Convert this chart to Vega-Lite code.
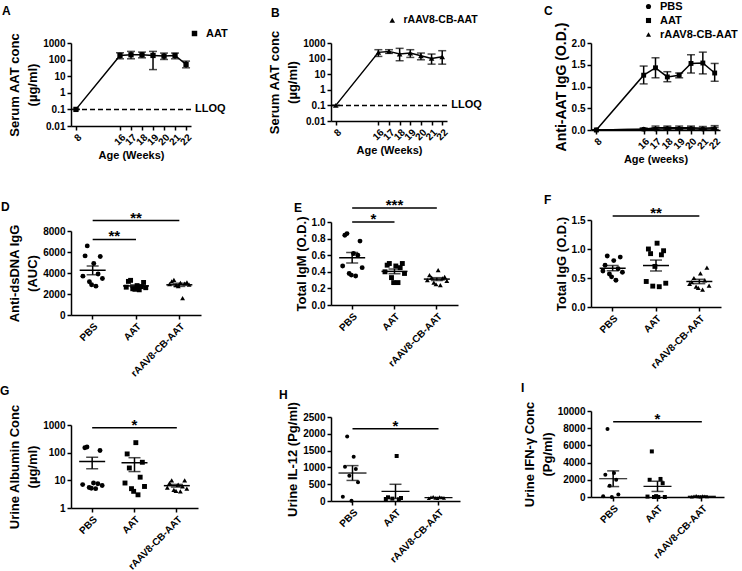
{
"$schema": "https://vega.github.io/schema/vega-lite/v6.json",
"background": "white",
"padding": {"left": 0, "top": 1, "right": 0, "bottom": 0},
"config": {
 "font": "Liberation Sans",
 "view": {"stroke": null},
 "axis": {"grid": false, "domainColor": "black", "domainWidth": 1.5, "tickColor": "black", "tickWidth": 1.5, "tickSize": 4, "labelColor": "black", "labelFontSize": 10, "labelFontWeight": "bold", "labelOverlap": false, "titleColor": "black", "titleFontSize": 13, "titleFontWeight": "bold", "labelPadding": 2, "titlePadding": 3, "titleLineHeight": 18},
 "title": {"fontSize": 12, "fontWeight": "bold", "anchor": "start", "color": "black", "frame": "group"},
 "legend": {"labelFontSize": 11, "labelFontWeight": "bold", "labelColor": "black", "rowPadding": 1, "labelOffset": 6}
},
"spacing": 260,
"bounds": "flush",
"resolve": {"scale": {"shape": "independent"}, "legend": {"shape": "independent"}},
"hconcat": [
 {"spacing": 105, "bounds": "flush", "resolve": {"scale": {"shape": "independent"}, "legend": {"shape": "independent"}},
  "vconcat": [
  {"width": 120, "height": 83,
   "title": {"text": "A", "dx": -69, "offset": 10.5},
   "data": {"values": [
    {"week": 8, "mean": 0.1, "lo": 0.1, "hi": 0.1, "grp": "AAT"},
    {"week": 16, "mean": 178, "lo": 112, "hi": 258, "grp": "AAT"},
    {"week": 17, "mean": 195, "lo": 112, "hi": 312, "grp": "AAT"},
    {"week": 18, "mean": 195, "lo": 128, "hi": 284, "grp": "AAT"},
    {"week": 19, "mean": 178, "lo": 25, "hi": 312, "grp": "AAT"},
    {"week": 20, "mean": 162, "lo": 102, "hi": 247, "grp": "AAT"},
    {"week": 21, "mean": 178, "lo": 112, "hi": 247, "grp": "AAT"},
    {"week": 22, "mean": 51, "lo": 32, "hi": 81, "grp": "AAT"}
   ]},
   "layer": [
    {"data": {"values": [{"lloq": 0.1}]},
     "mark": {"type": "rule", "strokeDash": [5, 3], "strokeWidth": 1.5, "color": "black"},
     "encoding": {"y": {"field": "lloq", "type": "quantitative", "scale": {"type": "log", "domain": [0.01, 1000]}, "axis": {"values": [0.01, 0.1, 1, 10, 100, 1000], "format": "~g", "title": ["Serum AAT conc", "(µg/ml)"]}}}},
    {"data": {"values": [{"lloq": 0.1, "wk": 22, "t": "LLOQ"}]},
     "mark": {"type": "text", "align": "left", "dx": 9, "fontSize": 11, "fontWeight": "bold", "baseline": "middle"},
     "encoding": {
      "x": {"field": "wk", "type": "ordinal", "scale": {"type": "point", "domain": [8, 13, 14, 15, 16, 17, 18, 19, 20, 21, 22], "padding": 0.45}, "axis": {"values": [8, 16, 17, 18, 19, 20, 21, 22], "title": "Age (Weeks)", "titleFontSize": 11, "labelAngle": -45}},
      "y": {"field": "lloq", "type": "quantitative", "scale": {"type": "log", "domain": [0.01, 1000]}, "axis": {"values": [0.01, 0.1, 1, 10, 100, 1000], "format": "~g", "title": ["Serum AAT conc", "(µg/ml)"]}},
      "text": {"field": "t"}}},
    {"mark": {"type": "rule", "strokeWidth": 1.5, "color": "black"},
     "encoding": {
      "x": {"field": "week", "type": "ordinal", "scale": {"type": "point", "domain": [8, 13, 14, 15, 16, 17, 18, 19, 20, 21, 22], "padding": 0.45}, "axis": {"values": [8, 16, 17, 18, 19, 20, 21, 22], "title": "Age (Weeks)", "titleFontSize": 11, "labelAngle": -45}},
      "y": {"field": "lo", "type": "quantitative", "scale": {"type": "log", "domain": [0.01, 1000]}, "axis": {"values": [0.01, 0.1, 1, 10, 100, 1000], "format": "~g", "title": ["Serum AAT conc", "(µg/ml)"]}},
      "y2": {"field": "hi"}}},
    {"mark": {"type": "tick", "size": 8, "thickness": 1.5, "color": "black"},
     "encoding": {
      "x": {"field": "week", "type": "ordinal", "scale": {"type": "point", "domain": [8, 13, 14, 15, 16, 17, 18, 19, 20, 21, 22], "padding": 0.45}, "axis": {"values": [8, 16, 17, 18, 19, 20, 21, 22], "title": "Age (Weeks)", "titleFontSize": 11, "labelAngle": -45}},
      "y": {"field": "lo", "type": "quantitative", "scale": {"type": "log", "domain": [0.01, 1000]}, "axis": {"values": [0.01, 0.1, 1, 10, 100, 1000], "format": "~g", "title": ["Serum AAT conc", "(µg/ml)"]}}}},
    {"mark": {"type": "tick", "size": 8, "thickness": 1.5, "color": "black"},
     "encoding": {
      "x": {"field": "week", "type": "ordinal", "scale": {"type": "point", "domain": [8, 13, 14, 15, 16, 17, 18, 19, 20, 21, 22], "padding": 0.45}, "axis": {"values": [8, 16, 17, 18, 19, 20, 21, 22], "title": "Age (Weeks)", "titleFontSize": 11, "labelAngle": -45}},
      "y": {"field": "hi", "type": "quantitative", "scale": {"type": "log", "domain": [0.01, 1000]}, "axis": {"values": [0.01, 0.1, 1, 10, 100, 1000], "format": "~g", "title": ["Serum AAT conc", "(µg/ml)"]}}}},
    {"mark": {"type": "line", "color": "black", "strokeWidth": 1.5},
     "encoding": {
      "x": {"field": "week", "type": "ordinal", "scale": {"type": "point", "domain": [8, 13, 14, 15, 16, 17, 18, 19, 20, 21, 22], "padding": 0.45}, "axis": {"values": [8, 16, 17, 18, 19, 20, 21, 22], "title": "Age (Weeks)", "titleFontSize": 11, "labelAngle": -45}},
      "y": {"field": "mean", "type": "quantitative", "scale": {"type": "log", "domain": [0.01, 1000]}, "axis": {"values": [0.01, 0.1, 1, 10, 100, 1000], "format": "~g", "title": ["Serum AAT conc", "(µg/ml)"]}}}},
    {"mark": {"type": "point", "filled": true, "color": "black", "size": 28, "opacity": 1},
     "encoding": {
      "x": {"field": "week", "type": "ordinal", "scale": {"type": "point", "domain": [8, 13, 14, 15, 16, 17, 18, 19, 20, 21, 22], "padding": 0.45}, "axis": {"values": [8, 16, 17, 18, 19, 20, 21, 22], "title": "Age (Weeks)", "titleFontSize": 11, "labelAngle": -45}},
      "y": {"field": "mean", "type": "quantitative", "scale": {"type": "log", "domain": [0.01, 1000]}, "axis": {"values": [0.01, 0.1, 1, 10, 100, 1000], "format": "~g", "title": ["Serum AAT conc", "(µg/ml)"]}},
      "shape": {"field": "grp", "type": "nominal", "scale": {"domain": ["AAT"], "range": ["square"]}, "legend": {"title": null, "orient": "none", "legendX": 118, "legendY": -15, "symbolSize": 30}}}}
   ]},
  {"spacing": 110, "bounds": "flush", "resolve": {"scale": {"shape": "independent"}, "legend": {"shape": "independent"}},
   "vconcat": [
   {"width": 130, "height": 84,
    "title": {"text": "D", "dx": -70, "offset": -3},
    "data": {"values": [
     {"g": "PBS", "id": 3, "v": 6580}, {"g": "PBS", "id": 2, "v": 5630}, {"g": "PBS", "id": 9, "v": 5570}, {"g": "PBS", "id": 6, "v": 4900}, {"g": "PBS", "id": 8, "v": 3900},
     {"g": "PBS", "id": 1, "v": 3700}, {"g": "PBS", "id": 10, "v": 3480}, {"g": "PBS", "id": 4, "v": 3160}, {"g": "PBS", "id": 5, "v": 2880}, {"g": "PBS", "id": 7, "v": 2750},
     {"g": "AAT", "id": 3, "v": 3300}, {"g": "AAT", "id": 2, "v": 3200}, {"g": "AAT", "id": 9, "v": 3100}, {"g": "AAT", "id": 6, "v": 2800}, {"g": "AAT", "id": 8, "v": 2700},
     {"g": "AAT", "id": 1, "v": 2650}, {"g": "AAT", "id": 10, "v": 2600}, {"g": "AAT", "id": 4, "v": 2500}, {"g": "AAT", "id": 5, "v": 2450}, {"g": "AAT", "id": 7, "v": 2400},
     {"g": "rAAV8-CB-AAT", "id": 3, "v": 3350}, {"g": "rAAV8-CB-AAT", "id": 2, "v": 3200}, {"g": "rAAV8-CB-AAT", "id": 9, "v": 3100}, {"g": "rAAV8-CB-AAT", "id": 6, "v": 3050}, {"g": "rAAV8-CB-AAT", "id": 8, "v": 3000},
     {"g": "rAAV8-CB-AAT", "id": 1, "v": 2950}, {"g": "rAAV8-CB-AAT", "id": 10, "v": 2900}, {"g": "rAAV8-CB-AAT", "id": 4, "v": 2850}, {"g": "rAAV8-CB-AAT", "id": 5, "v": 2750}, {"g": "rAAV8-CB-AAT", "id": 7, "v": 1600}
    ]},
    "layer": [
     {"mark": {"type": "point", "filled": true, "color": "black", "size": 24, "opacity": 1},
      "encoding": {
       "x": {"field": "g", "type": "nominal", "scale": {"type": "band", "domain": ["PBS", "AAT", "rAAV8-CB-AAT"], "paddingInner": 0.5, "paddingOuter": 0.25}, "axis": {"title": null, "labelAngle": -45}},
       "xOffset": {"field": "id", "type": "nominal"},
       "y": {"field": "v", "type": "quantitative", "scale": {"domain": [0, 8000]}, "axis": {"values": [0, 2000, 4000, 6000, 8000], "format": "d", "title": ["Anti-dsDNA IgG", "(AUC)"]}},
       "shape": {"field": "g", "type": "nominal", "scale": {"domain": ["PBS", "AAT", "rAAV8-CB-AAT"], "range": ["circle", "square", "triangle-up"]}, "legend": null}}},
     {"mark": {"type": "tick", "size": 26, "thickness": 1.5, "color": "black"},
      "encoding": {
       "x": {"field": "g", "type": "nominal", "scale": {"type": "band", "domain": ["PBS", "AAT", "rAAV8-CB-AAT"], "paddingInner": 0.5, "paddingOuter": 0.25}, "axis": {"title": null, "labelAngle": -45}},
       "y": {"aggregate": "mean", "field": "v", "type": "quantitative", "scale": {"domain": [0, 8000]}, "axis": {"values": [0, 2000, 4000, 6000, 8000], "format": "d", "title": ["Anti-dsDNA IgG", "(AUC)"]}}}},
     {"mark": {"type": "errorbar", "extent": "stderr", "color": "black", "thickness": 1.5, "ticks": {"size": 12, "thickness": 1.5}},
      "encoding": {
       "x": {"field": "g", "type": "nominal", "scale": {"type": "band", "domain": ["PBS", "AAT", "rAAV8-CB-AAT"], "paddingInner": 0.5, "paddingOuter": 0.25}, "axis": {"title": null, "labelAngle": -45}},
       "y": {"field": "v", "type": "quantitative", "scale": {"domain": [0, 8000]}, "axis": {"values": [0, 2000, 4000, 6000, 8000], "format": "d", "title": ["Anti-dsDNA IgG", "(AUC)"]}}}},
     {"data": {"values": [{"a": "PBS", "b": "AAT", "y": 7200}, {"a": "PBS", "b": "rAAV8-CB-AAT", "y": 9000}]},
      "mark": {"type": "rule", "strokeWidth": 1.5, "color": "black"},
      "encoding": {
       "x": {"field": "a", "type": "nominal", "scale": {"type": "band", "domain": ["PBS", "AAT", "rAAV8-CB-AAT"], "paddingInner": 0.5, "paddingOuter": 0.25}, "axis": {"title": null, "labelAngle": -45}},
       "x2": {"field": "b"},
       "y": {"field": "y", "type": "quantitative", "scale": {"domain": [0, 8000]}, "axis": {"values": [0, 2000, 4000, 6000, 8000], "format": "d", "title": ["Anti-dsDNA IgG", "(AUC)"]}}}},
     {"data": {"values": [{"c": "PBS", "y": 7200, "s": "**"}]},
      "mark": {"type": "text", "fontSize": 15, "fontWeight": "bold", "baseline": "alphabetic", "dy": 2},
      "encoding": {
       "x": {"field": "c", "type": "nominal", "bandPosition": 1.5, "scale": {"type": "band", "domain": ["PBS", "AAT", "rAAV8-CB-AAT"], "paddingInner": 0.5, "paddingOuter": 0.25}, "axis": {"title": null, "labelAngle": -45}},
       "y": {"field": "y", "type": "quantitative", "scale": {"domain": [0, 8000]}, "axis": {"values": [0, 2000, 4000, 6000, 8000], "format": "d", "title": ["Anti-dsDNA IgG", "(AUC)"]}},
       "text": {"field": "s"}}},
     {"data": {"values": [{"c": "AAT", "y": 9000, "s": "**"}]},
      "mark": {"type": "text", "fontSize": 15, "fontWeight": "bold", "baseline": "alphabetic", "dy": 2},
      "encoding": {
       "x": {"field": "c", "type": "nominal", "scale": {"type": "band", "domain": ["PBS", "AAT", "rAAV8-CB-AAT"], "paddingInner": 0.5, "paddingOuter": 0.25}, "axis": {"title": null, "labelAngle": -45}},
       "y": {"field": "y", "type": "quantitative", "scale": {"domain": [0, 8000]}, "axis": {"values": [0, 2000, 4000, 6000, 8000], "format": "d", "title": ["Anti-dsDNA IgG", "(AUC)"]}},
       "text": {"field": "s"}}}
    ]},
   {"width": 127, "height": 83,
    "title": {"text": "G", "dx": -71, "offset": 6.5},
    "data": {"values": [
     {"g": "PBS", "id": 3, "v": 160}, {"g": "PBS", "id": 2, "v": 150}, {"g": "PBS", "id": 9, "v": 120}, {"g": "PBS", "id": 6, "v": 8}, {"g": "PBS", "id": 8, "v": 7.5},
     {"g": "PBS", "id": 1, "v": 7}, {"g": "PBS", "id": 10, "v": 6.5}, {"g": "PBS", "id": 4, "v": 5.5}, {"g": "PBS", "id": 5, "v": 5.2}, {"g": "PBS", "id": 7, "v": 5},
     {"g": "AAT", "id": 6, "v": 230}, {"g": "AAT", "id": 2, "v": 90}, {"g": "AAT", "id": 9, "v": 45}, {"g": "AAT", "id": 3, "v": 28}, {"g": "AAT", "id": 8, "v": 13},
     {"g": "AAT", "id": 1, "v": 8}, {"g": "AAT", "id": 10, "v": 6}, {"g": "AAT", "id": 4, "v": 5}, {"g": "AAT", "id": 5, "v": 4}, {"g": "AAT", "id": 7, "v": 3},
     {"g": "rAAV8-CB-AAT", "id": 3, "v": 10}, {"g": "rAAV8-CB-AAT", "id": 9, "v": 10}, {"g": "rAAV8-CB-AAT", "id": 2, "v": 8}, {"g": "rAAV8-CB-AAT", "id": 6, "v": 7}, {"g": "rAAV8-CB-AAT", "id": 8, "v": 6},
     {"g": "rAAV8-CB-AAT", "id": 1, "v": 5.5}, {"g": "rAAV8-CB-AAT", "id": 10, "v": 5}, {"g": "rAAV8-CB-AAT", "id": 4, "v": 4.5}, {"g": "rAAV8-CB-AAT", "id": 5, "v": 4.2}, {"g": "rAAV8-CB-AAT", "id": 7, "v": 4}
    ]},
    "layer": [
     {"mark": {"type": "point", "filled": true, "color": "black", "size": 24, "opacity": 1},
      "encoding": {
       "x": {"field": "g", "type": "nominal", "scale": {"type": "band", "domain": ["PBS", "AAT", "rAAV8-CB-AAT"], "paddingInner": 0.5, "paddingOuter": 0.25}, "axis": {"title": null, "labelAngle": -45}},
       "xOffset": {"field": "id", "type": "nominal"},
       "y": {"field": "v", "type": "quantitative", "scale": {"type": "log", "domain": [1, 1000]}, "axis": {"values": [1, 10, 100, 1000], "format": "~g", "title": ["Urine Albumin Conc", "(µg/ml)"]}},
       "shape": {"field": "g", "type": "nominal", "scale": {"domain": ["PBS", "AAT", "rAAV8-CB-AAT"], "range": ["circle", "square", "triangle-up"]}, "legend": null}}},
     {"mark": {"type": "tick", "size": 26, "thickness": 1.5, "color": "black"},
      "encoding": {
       "x": {"field": "g", "type": "nominal", "scale": {"type": "band", "domain": ["PBS", "AAT", "rAAV8-CB-AAT"], "paddingInner": 0.5, "paddingOuter": 0.25}, "axis": {"title": null, "labelAngle": -45}},
       "y": {"aggregate": "mean", "field": "v", "type": "quantitative", "scale": {"type": "log", "domain": [1, 1000]}, "axis": {"values": [1, 10, 100, 1000], "format": "~g", "title": ["Urine Albumin Conc", "(µg/ml)"]}}}},
     {"mark": {"type": "errorbar", "extent": "stderr", "color": "black", "thickness": 1.5, "ticks": {"size": 12, "thickness": 1.5}},
      "encoding": {
       "x": {"field": "g", "type": "nominal", "scale": {"type": "band", "domain": ["PBS", "AAT", "rAAV8-CB-AAT"], "paddingInner": 0.5, "paddingOuter": 0.25}, "axis": {"title": null, "labelAngle": -45}},
       "y": {"field": "v", "type": "quantitative", "scale": {"type": "log", "domain": [1, 1000]}, "axis": {"values": [1, 10, 100, 1000], "format": "~g", "title": ["Urine Albumin Conc", "(µg/ml)"]}}}},
     {"data": {"values": [{"a": "PBS", "b": "rAAV8-CB-AAT", "y": 800}]},
      "mark": {"type": "rule", "strokeWidth": 1.5, "color": "black"},
      "encoding": {
       "x": {"field": "a", "type": "nominal", "scale": {"type": "band", "domain": ["PBS", "AAT", "rAAV8-CB-AAT"], "paddingInner": 0.5, "paddingOuter": 0.25}, "axis": {"title": null, "labelAngle": -45}},
       "x2": {"field": "b"},
       "y": {"field": "y", "type": "quantitative", "scale": {"type": "log", "domain": [1, 1000]}, "axis": {"values": [1, 10, 100, 1000], "format": "~g", "title": ["Urine Albumin Conc", "(µg/ml)"]}}}},
     {"data": {"values": [{"c": "AAT", "y": 800, "s": "*"}]},
      "mark": {"type": "text", "fontSize": 15, "fontWeight": "bold", "baseline": "alphabetic", "dy": 2},
      "encoding": {
       "x": {"field": "c", "type": "nominal", "scale": {"type": "band", "domain": ["PBS", "AAT", "rAAV8-CB-AAT"], "paddingInner": 0.5, "paddingOuter": 0.25}, "axis": {"title": null, "labelAngle": -45}},
       "y": {"field": "y", "type": "quantitative", "scale": {"type": "log", "domain": [1, 1000]}, "axis": {"values": [1, 10, 100, 1000], "format": "~g", "title": ["Urine Albumin Conc", "(µg/ml)"]}},
       "text": {"field": "s"}}}
    ]}
  ]}
 ]},
 {"spacing": 101, "bounds": "flush", "resolve": {"scale": {"shape": "independent"}, "legend": {"shape": "independent"}},
  "vconcat": [
  {"width": 116, "height": 78,
   "title": {"text": "B", "dx": -60, "offset": -4.5},
   "data": {"values": [
    {"week": 8, "mean": 0.1, "lo": 0.1, "hi": 0.1, "grp": "rAAV8-CB-AAT"},
    {"week": 16, "mean": 251, "lo": 138, "hi": 372, "grp": "rAAV8-CB-AAT"},
    {"week": 17, "mean": 290, "lo": 216, "hi": 372, "grp": "rAAV8-CB-AAT"},
    {"week": 18, "mean": 196, "lo": 73, "hi": 454, "grp": "rAAV8-CB-AAT"},
    {"week": 19, "mean": 227, "lo": 119, "hi": 372, "grp": "rAAV8-CB-AAT"},
    {"week": 20, "mean": 153, "lo": 84, "hi": 227, "grp": "rAAV8-CB-AAT"},
    {"week": 21, "mean": 103, "lo": 44, "hi": 196, "grp": "rAAV8-CB-AAT"},
    {"week": 22, "mean": 132, "lo": 44, "hi": 321, "grp": "rAAV8-CB-AAT"}
   ]},
   "layer": [
    {"data": {"values": [{"lloq": 0.1}]},
     "mark": {"type": "rule", "strokeDash": [5, 3], "strokeWidth": 1.5, "color": "black"},
     "encoding": {"y": {"field": "lloq", "type": "quantitative", "scale": {"type": "log", "domain": [0.01, 1000]}, "axis": {"values": [0.01, 0.1, 1, 10, 100, 1000], "format": "~g", "title": ["Serum AAT conc", "(µg/ml)"]}}}},
    {"data": {"values": [{"lloq": 0.1, "wk": 22, "t": "LLOQ"}]},
     "mark": {"type": "text", "align": "left", "dx": 9, "fontSize": 11, "fontWeight": "bold", "baseline": "middle"},
     "encoding": {
      "x": {"field": "wk", "type": "ordinal", "scale": {"type": "point", "domain": [8, 13, 14, 15, 16, 17, 18, 19, 20, 21, 22], "padding": 0.45}, "axis": {"values": [8, 16, 17, 18, 19, 20, 21, 22], "title": "Age (Weeks)", "titleFontSize": 11, "labelAngle": -45}},
      "y": {"field": "lloq", "type": "quantitative", "scale": {"type": "log", "domain": [0.01, 1000]}, "axis": {"values": [0.01, 0.1, 1, 10, 100, 1000], "format": "~g", "title": ["Serum AAT conc", "(µg/ml)"]}},
      "text": {"field": "t"}}},
    {"mark": {"type": "rule", "strokeWidth": 1.5, "color": "black"},
     "encoding": {
      "x": {"field": "week", "type": "ordinal", "scale": {"type": "point", "domain": [8, 13, 14, 15, 16, 17, 18, 19, 20, 21, 22], "padding": 0.45}, "axis": {"values": [8, 16, 17, 18, 19, 20, 21, 22], "title": "Age (Weeks)", "titleFontSize": 11, "labelAngle": -45}},
      "y": {"field": "lo", "type": "quantitative", "scale": {"type": "log", "domain": [0.01, 1000]}, "axis": {"values": [0.01, 0.1, 1, 10, 100, 1000], "format": "~g", "title": ["Serum AAT conc", "(µg/ml)"]}},
      "y2": {"field": "hi"}}},
    {"mark": {"type": "tick", "size": 8, "thickness": 1.5, "color": "black"},
     "encoding": {
      "x": {"field": "week", "type": "ordinal", "scale": {"type": "point", "domain": [8, 13, 14, 15, 16, 17, 18, 19, 20, 21, 22], "padding": 0.45}, "axis": {"values": [8, 16, 17, 18, 19, 20, 21, 22], "title": "Age (Weeks)", "titleFontSize": 11, "labelAngle": -45}},
      "y": {"field": "lo", "type": "quantitative", "scale": {"type": "log", "domain": [0.01, 1000]}, "axis": {"values": [0.01, 0.1, 1, 10, 100, 1000], "format": "~g", "title": ["Serum AAT conc", "(µg/ml)"]}}}},
    {"mark": {"type": "tick", "size": 8, "thickness": 1.5, "color": "black"},
     "encoding": {
      "x": {"field": "week", "type": "ordinal", "scale": {"type": "point", "domain": [8, 13, 14, 15, 16, 17, 18, 19, 20, 21, 22], "padding": 0.45}, "axis": {"values": [8, 16, 17, 18, 19, 20, 21, 22], "title": "Age (Weeks)", "titleFontSize": 11, "labelAngle": -45}},
      "y": {"field": "hi", "type": "quantitative", "scale": {"type": "log", "domain": [0.01, 1000]}, "axis": {"values": [0.01, 0.1, 1, 10, 100, 1000], "format": "~g", "title": ["Serum AAT conc", "(µg/ml)"]}}}},
    {"mark": {"type": "line", "color": "black", "strokeWidth": 1.5},
     "encoding": {
      "x": {"field": "week", "type": "ordinal", "scale": {"type": "point", "domain": [8, 13, 14, 15, 16, 17, 18, 19, 20, 21, 22], "padding": 0.45}, "axis": {"values": [8, 16, 17, 18, 19, 20, 21, 22], "title": "Age (Weeks)", "titleFontSize": 11, "labelAngle": -45}},
      "y": {"field": "mean", "type": "quantitative", "scale": {"type": "log", "domain": [0.01, 1000]}, "axis": {"values": [0.01, 0.1, 1, 10, 100, 1000], "format": "~g", "title": ["Serum AAT conc", "(µg/ml)"]}}}},
    {"mark": {"type": "point", "filled": true, "color": "black", "size": 32, "opacity": 1},
     "encoding": {
      "x": {"field": "week", "type": "ordinal", "scale": {"type": "point", "domain": [8, 13, 14, 15, 16, 17, 18, 19, 20, 21, 22], "padding": 0.45}, "axis": {"values": [8, 16, 17, 18, 19, 20, 21, 22], "title": "Age (Weeks)", "titleFontSize": 11, "labelAngle": -45}},
      "y": {"field": "mean", "type": "quantitative", "scale": {"type": "log", "domain": [0.01, 1000]}, "axis": {"values": [0.01, 0.1, 1, 10, 100, 1000], "format": "~g", "title": ["Serum AAT conc", "(µg/ml)"]}},
      "shape": {"field": "grp", "type": "nominal", "scale": {"domain": ["rAAV8-CB-AAT"], "range": ["triangle-up"]}, "legend": {"title": null, "orient": "none", "legendX": 56, "legendY": -28, "symbolSize": 32, "labelFontSize": 10.5}}}}
   ]},
  {"spacing": 112, "bounds": "flush", "resolve": {"scale": {"shape": "independent"}, "legend": {"shape": "independent"}},
   "vconcat": [
   {"width": 127, "height": 83,
    "title": {"text": "E", "dx": -37, "offset": -17},
    "data": {"values": [
     {"g": "PBS", "id": 3, "v": 0.86}, {"g": "PBS", "id": 2, "v": 0.84}, {"g": "PBS", "id": 9, "v": 0.77}, {"g": "PBS", "id": 6, "v": 0.62}, {"g": "PBS", "id": 8, "v": 0.60},
     {"g": "PBS", "id": 1, "v": 0.47}, {"g": "PBS", "id": 10, "v": 0.45}, {"g": "PBS", "id": 4, "v": 0.38}, {"g": "PBS", "id": 5, "v": 0.36}, {"g": "PBS", "id": 7, "v": 0.35},
     {"g": "AAT", "id": 3, "v": 0.50}, {"g": "AAT", "id": 9, "v": 0.50}, {"g": "AAT", "id": 2, "v": 0.48}, {"g": "AAT", "id": 6, "v": 0.47}, {"g": "AAT", "id": 8, "v": 0.45},
     {"g": "AAT", "id": 1, "v": 0.40}, {"g": "AAT", "id": 10, "v": 0.38}, {"g": "AAT", "id": 4, "v": 0.33}, {"g": "AAT", "id": 5, "v": 0.27}, {"g": "AAT", "id": 7, "v": 0.27},
     {"g": "rAAV8-CB-AAT", "id": 6, "v": 0.42}, {"g": "rAAV8-CB-AAT", "id": 2, "v": 0.36}, {"g": "rAAV8-CB-AAT", "id": 9, "v": 0.34}, {"g": "rAAV8-CB-AAT", "id": 3, "v": 0.33}, {"g": "rAAV8-CB-AAT", "id": 8, "v": 0.32},
     {"g": "rAAV8-CB-AAT", "id": 1, "v": 0.30}, {"g": "rAAV8-CB-AAT", "id": 10, "v": 0.29}, {"g": "rAAV8-CB-AAT", "id": 4, "v": 0.27}, {"g": "rAAV8-CB-AAT", "id": 5, "v": 0.25}, {"g": "rAAV8-CB-AAT", "id": 7, "v": 0.24}
    ]},
    "layer": [
     {"mark": {"type": "point", "filled": true, "color": "black", "size": 24, "opacity": 1},
      "encoding": {
       "x": {"field": "g", "type": "nominal", "scale": {"type": "band", "domain": ["PBS", "AAT", "rAAV8-CB-AAT"], "paddingInner": 0.5, "paddingOuter": 0.25}, "axis": {"title": null, "labelAngle": -45}},
       "xOffset": {"field": "id", "type": "nominal"},
       "y": {"field": "v", "type": "quantitative", "scale": {"domain": [0, 1]}, "axis": {"values": [0, 0.2, 0.4, 0.6, 0.8, 1], "format": ".1f", "title": "Total IgM (O.D.)"}},
       "shape": {"field": "g", "type": "nominal", "scale": {"domain": ["PBS", "AAT", "rAAV8-CB-AAT"], "range": ["circle", "square", "triangle-up"]}, "legend": null}}},
     {"mark": {"type": "tick", "size": 26, "thickness": 1.5, "color": "black"},
      "encoding": {
       "x": {"field": "g", "type": "nominal", "scale": {"type": "band", "domain": ["PBS", "AAT", "rAAV8-CB-AAT"], "paddingInner": 0.5, "paddingOuter": 0.25}, "axis": {"title": null, "labelAngle": -45}},
       "y": {"aggregate": "mean", "field": "v", "type": "quantitative", "scale": {"domain": [0, 1]}, "axis": {"values": [0, 0.2, 0.4, 0.6, 0.8, 1], "format": ".1f", "title": "Total IgM (O.D.)"}}}},
     {"mark": {"type": "errorbar", "extent": "stderr", "color": "black", "thickness": 1.5, "ticks": {"size": 12, "thickness": 1.5}},
      "encoding": {
       "x": {"field": "g", "type": "nominal", "scale": {"type": "band", "domain": ["PBS", "AAT", "rAAV8-CB-AAT"], "paddingInner": 0.5, "paddingOuter": 0.25}, "axis": {"title": null, "labelAngle": -45}},
       "y": {"field": "v", "type": "quantitative", "scale": {"domain": [0, 1]}, "axis": {"values": [0, 0.2, 0.4, 0.6, 0.8, 1], "format": ".1f", "title": "Total IgM (O.D.)"}}}},
     {"data": {"values": [{"a": "PBS", "b": "AAT", "y": 1.0}, {"a": "PBS", "b": "rAAV8-CB-AAT", "y": 1.17}]},
      "mark": {"type": "rule", "strokeWidth": 1.5, "color": "black"},
      "encoding": {
       "x": {"field": "a", "type": "nominal", "scale": {"type": "band", "domain": ["PBS", "AAT", "rAAV8-CB-AAT"], "paddingInner": 0.5, "paddingOuter": 0.25}, "axis": {"title": null, "labelAngle": -45}},
       "x2": {"field": "b"},
       "y": {"field": "y", "type": "quantitative", "scale": {"domain": [0, 1]}, "axis": {"values": [0, 0.2, 0.4, 0.6, 0.8, 1], "format": ".1f", "title": "Total IgM (O.D.)"}}}},
     {"data": {"values": [{"c": "PBS", "y": 1.0, "s": "*"}]},
      "mark": {"type": "text", "fontSize": 15, "fontWeight": "bold", "baseline": "alphabetic", "dy": 2},
      "encoding": {
       "x": {"field": "c", "type": "nominal", "bandPosition": 1.5, "scale": {"type": "band", "domain": ["PBS", "AAT", "rAAV8-CB-AAT"], "paddingInner": 0.5, "paddingOuter": 0.25}, "axis": {"title": null, "labelAngle": -45}},
       "y": {"field": "y", "type": "quantitative", "scale": {"domain": [0, 1]}, "axis": {"values": [0, 0.2, 0.4, 0.6, 0.8, 1], "format": ".1f", "title": "Total IgM (O.D.)"}},
       "text": {"field": "s"}}},
     {"data": {"values": [{"c": "AAT", "y": 1.17, "s": "***"}]},
      "mark": {"type": "text", "fontSize": 15, "fontWeight": "bold", "baseline": "alphabetic", "dy": 2},
      "encoding": {
       "x": {"field": "c", "type": "nominal", "scale": {"type": "band", "domain": ["PBS", "AAT", "rAAV8-CB-AAT"], "paddingInner": 0.5, "paddingOuter": 0.25}, "axis": {"title": null, "labelAngle": -45}},
       "y": {"field": "y", "type": "quantitative", "scale": {"domain": [0, 1]}, "axis": {"values": [0, 0.2, 0.4, 0.6, 0.8, 1], "format": ".1f", "title": "Total IgM (O.D.)"}},
       "text": {"field": "s"}}}
    ]},
   {"width": 129, "height": 84,
    "title": {"text": "H", "dx": -52, "offset": 0},
    "data": {"values": [
     {"g": "PBS", "id": 3, "v": 1920}, {"g": "PBS", "id": 6, "v": 1320}, {"g": "PBS", "id": 2, "v": 1020}, {"g": "PBS", "id": 7, "v": 950},
     {"g": "PBS", "id": 4, "v": 750}, {"g": "PBS", "id": 8, "v": 560}, {"g": "PBS", "id": 1, "v": 130}, {"g": "PBS", "id": 5, "v": 10},
     {"g": "AAT", "id": 6, "v": 1340}, {"g": "AAT", "id": 2, "v": 110}, {"g": "AAT", "id": 8, "v": 90}, {"g": "AAT", "id": 4, "v": 70}, {"g": "AAT", "id": 1, "v": 60}, {"g": "AAT", "id": 7, "v": 50},
     {"g": "rAAV8-CB-AAT", "id": 3, "v": 130}, {"g": "rAAV8-CB-AAT", "id": 6, "v": 120}, {"g": "rAAV8-CB-AAT", "id": 2, "v": 110}, {"g": "rAAV8-CB-AAT", "id": 7, "v": 100},
     {"g": "rAAV8-CB-AAT", "id": 4, "v": 90}, {"g": "rAAV8-CB-AAT", "id": 8, "v": 90}, {"g": "rAAV8-CB-AAT", "id": 1, "v": 80}, {"g": "rAAV8-CB-AAT", "id": 5, "v": 80}
    ]},
    "layer": [
     {"mark": {"type": "point", "filled": true, "color": "black", "size": 16, "opacity": 1},
      "encoding": {
       "x": {"field": "g", "type": "nominal", "scale": {"type": "band", "domain": ["PBS", "AAT", "rAAV8-CB-AAT"], "paddingInner": 0.5, "paddingOuter": 0.25}, "axis": {"title": null, "labelAngle": -45}},
       "xOffset": {"field": "id", "type": "nominal"},
       "y": {"field": "v", "type": "quantitative", "scale": {"domain": [0, 2500]}, "axis": {"values": [0, 500, 1000, 1500, 2000, 2500], "format": "d", "title": "Urine IL-12 (Pg/ml)"}},
       "shape": {"field": "g", "type": "nominal", "scale": {"domain": ["PBS", "AAT", "rAAV8-CB-AAT"], "range": ["circle", "square", "triangle-up"]}, "legend": null}}},
     {"mark": {"type": "tick", "size": 28, "thickness": 1.2, "color": "black"},
      "encoding": {
       "x": {"field": "g", "type": "nominal", "scale": {"type": "band", "domain": ["PBS", "AAT", "rAAV8-CB-AAT"], "paddingInner": 0.5, "paddingOuter": 0.25}, "axis": {"title": null, "labelAngle": -45}},
       "y": {"aggregate": "mean", "field": "v", "type": "quantitative", "scale": {"domain": [0, 2500]}, "axis": {"values": [0, 500, 1000, 1500, 2000, 2500], "format": "d", "title": "Urine IL-12 (Pg/ml)"}}}},
     {"mark": {"type": "errorbar", "extent": "stderr", "color": "black", "thickness": 1.5, "ticks": {"size": 12, "thickness": 1.5}},
      "encoding": {
       "x": {"field": "g", "type": "nominal", "scale": {"type": "band", "domain": ["PBS", "AAT", "rAAV8-CB-AAT"], "paddingInner": 0.5, "paddingOuter": 0.25}, "axis": {"title": null, "labelAngle": -45}},
       "y": {"field": "v", "type": "quantitative", "scale": {"domain": [0, 2500]}, "axis": {"values": [0, 500, 1000, 1500, 2000, 2500], "format": "d", "title": "Urine IL-12 (Pg/ml)"}}}},
     {"data": {"values": [{"a": "PBS", "b": "rAAV8-CB-AAT", "y": 2150}]},
      "mark": {"type": "rule", "strokeWidth": 1.5, "color": "black"},
      "encoding": {
       "x": {"field": "a", "type": "nominal", "scale": {"type": "band", "domain": ["PBS", "AAT", "rAAV8-CB-AAT"], "paddingInner": 0.5, "paddingOuter": 0.25}, "axis": {"title": null, "labelAngle": -45}},
       "x2": {"field": "b"},
       "y": {"field": "y", "type": "quantitative", "scale": {"domain": [0, 2500]}, "axis": {"values": [0, 500, 1000, 1500, 2000, 2500], "format": "d", "title": "Urine IL-12 (Pg/ml)"}}}},
     {"data": {"values": [{"c": "AAT", "y": 2150, "s": "*"}]},
      "mark": {"type": "text", "fontSize": 15, "fontWeight": "bold", "baseline": "alphabetic", "dy": 2},
      "encoding": {
       "x": {"field": "c", "type": "nominal", "scale": {"type": "band", "domain": ["PBS", "AAT", "rAAV8-CB-AAT"], "paddingInner": 0.5, "paddingOuter": 0.25}, "axis": {"title": null, "labelAngle": -45}},
       "y": {"field": "y", "type": "quantitative", "scale": {"domain": [0, 2500]}, "axis": {"values": [0, 500, 1000, 1500, 2000, 2500], "format": "d", "title": "Urine IL-12 (Pg/ml)"}},
       "text": {"field": "s"}}}
    ]}
  ]}
 ]},
 {"spacing": 90, "bounds": "flush", "resolve": {"scale": {"shape": "independent"}, "legend": {"shape": "independent"}},
  "vconcat": [
  {"width": 129, "height": 87,
   "title": {"text": "C", "dx": -47, "offset": -16.5},
   "data": {"values": [
    {"week": 8, "mean": 0, "lo": 0, "hi": 0, "grp": "PBS"},
    {"week": 16, "mean": 0.02, "lo": 0.0, "hi": 0.04, "grp": "PBS"},
    {"week": 17, "mean": 0.02, "lo": 0.0, "hi": 0.05, "grp": "PBS"},
    {"week": 18, "mean": 0.03, "lo": 0.0, "hi": 0.06, "grp": "PBS"},
    {"week": 19, "mean": 0.03, "lo": 0.01, "hi": 0.05, "grp": "PBS"},
    {"week": 20, "mean": 0.03, "lo": 0.01, "hi": 0.06, "grp": "PBS"},
    {"week": 21, "mean": 0.02, "lo": 0.0, "hi": 0.04, "grp": "PBS"},
    {"week": 22, "mean": 0.03, "lo": 0.0, "hi": 0.06, "grp": "PBS"},
    {"week": 8, "mean": 0, "lo": 0, "hi": 0, "grp": "AAT"},
    {"week": 16, "mean": 1.26, "lo": 1.06, "hi": 1.47, "grp": "AAT"},
    {"week": 17, "mean": 1.43, "lo": 1.20, "hi": 1.66, "grp": "AAT"},
    {"week": 18, "mean": 1.22, "lo": 1.11, "hi": 1.34, "grp": "AAT"},
    {"week": 19, "mean": 1.26, "lo": 1.20, "hi": 1.31, "grp": "AAT"},
    {"week": 20, "mean": 1.53, "lo": 1.31, "hi": 1.73, "grp": "AAT"},
    {"week": 21, "mean": 1.54, "lo": 1.29, "hi": 1.79, "grp": "AAT"},
    {"week": 22, "mean": 1.31, "lo": 1.12, "hi": 1.53, "grp": "AAT"},
    {"week": 8, "mean": 0, "lo": 0, "hi": 0, "grp": "rAAV8-CB-AAT"},
    {"week": 16, "mean": 0.02, "lo": 0.0, "hi": 0.04, "grp": "rAAV8-CB-AAT"},
    {"week": 17, "mean": 0.05, "lo": 0.01, "hi": 0.09, "grp": "rAAV8-CB-AAT"},
    {"week": 18, "mean": 0.05, "lo": 0.01, "hi": 0.09, "grp": "rAAV8-CB-AAT"},
    {"week": 19, "mean": 0.05, "lo": 0.01, "hi": 0.09, "grp": "rAAV8-CB-AAT"},
    {"week": 20, "mean": 0.05, "lo": 0.01, "hi": 0.09, "grp": "rAAV8-CB-AAT"},
    {"week": 21, "mean": 0.04, "lo": 0.01, "hi": 0.08, "grp": "rAAV8-CB-AAT"},
    {"week": 22, "mean": 0.05, "lo": 0.01, "hi": 0.10, "grp": "rAAV8-CB-AAT"}
   ]},
   "layer": [
    {"mark": {"type": "rule", "strokeWidth": 1.5, "color": "black"},
     "encoding": {
      "x": {"field": "week", "type": "ordinal", "scale": {"type": "point", "domain": [8, 13, 14, 15, 16, 17, 18, 19, 20, 21, 22], "padding": 0.45}, "axis": {"values": [8, 16, 17, 18, 19, 20, 21, 22], "title": "Age (weeks)", "titleFontSize": 11, "labelAngle": -45}},
      "y": {"field": "lo", "type": "quantitative", "scale": {"domain": [0, 2]}, "axis": {"values": [0, 0.5, 1, 1.5, 2], "format": ".1f", "title": "Anti-AAT IgG (O.D.)", "titleFontSize": 14}},
      "y2": {"field": "hi"}}},
    {"mark": {"type": "tick", "size": 8, "thickness": 1.5, "color": "black"},
     "encoding": {
      "x": {"field": "week", "type": "ordinal", "scale": {"type": "point", "domain": [8, 13, 14, 15, 16, 17, 18, 19, 20, 21, 22], "padding": 0.45}, "axis": {"values": [8, 16, 17, 18, 19, 20, 21, 22], "title": "Age (weeks)", "titleFontSize": 11, "labelAngle": -45}},
      "y": {"field": "lo", "type": "quantitative", "scale": {"domain": [0, 2]}, "axis": {"values": [0, 0.5, 1, 1.5, 2], "format": ".1f", "title": "Anti-AAT IgG (O.D.)", "titleFontSize": 14}}}},
    {"mark": {"type": "tick", "size": 8, "thickness": 1.5, "color": "black"},
     "encoding": {
      "x": {"field": "week", "type": "ordinal", "scale": {"type": "point", "domain": [8, 13, 14, 15, 16, 17, 18, 19, 20, 21, 22], "padding": 0.45}, "axis": {"values": [8, 16, 17, 18, 19, 20, 21, 22], "title": "Age (weeks)", "titleFontSize": 11, "labelAngle": -45}},
      "y": {"field": "hi", "type": "quantitative", "scale": {"domain": [0, 2]}, "axis": {"values": [0, 0.5, 1, 1.5, 2], "format": ".1f", "title": "Anti-AAT IgG (O.D.)", "titleFontSize": 14}}}},
    {"mark": {"type": "line", "color": "black", "strokeWidth": 1.5},
     "encoding": {
      "x": {"field": "week", "type": "ordinal", "scale": {"type": "point", "domain": [8, 13, 14, 15, 16, 17, 18, 19, 20, 21, 22], "padding": 0.45}, "axis": {"values": [8, 16, 17, 18, 19, 20, 21, 22], "title": "Age (weeks)", "titleFontSize": 11, "labelAngle": -45}},
      "y": {"field": "mean", "type": "quantitative", "scale": {"domain": [0, 2]}, "axis": {"values": [0, 0.5, 1, 1.5, 2], "format": ".1f", "title": "Anti-AAT IgG (O.D.)", "titleFontSize": 14}},
      "detail": {"field": "grp", "type": "nominal"}}},
    {"mark": {"type": "point", "filled": true, "color": "black", "size": 24, "opacity": 1},
     "encoding": {
      "x": {"field": "week", "type": "ordinal", "scale": {"type": "point", "domain": [8, 13, 14, 15, 16, 17, 18, 19, 20, 21, 22], "padding": 0.45}, "axis": {"values": [8, 16, 17, 18, 19, 20, 21, 22], "title": "Age (weeks)", "titleFontSize": 11, "labelAngle": -45}},
      "y": {"field": "mean", "type": "quantitative", "scale": {"domain": [0, 2]}, "axis": {"values": [0, 0.5, 1, 1.5, 2], "format": ".1f", "title": "Anti-AAT IgG (O.D.)", "titleFontSize": 14}},
      "shape": {"field": "grp", "type": "nominal", "scale": {"domain": ["PBS", "AAT", "rAAV8-CB-AAT"], "range": ["circle", "square", "triangle-up"]}, "legend": {"title": null, "orient": "none", "legendX": 52, "legendY": -42, "symbolSize": 26, "rowPadding": 1}}}}
   ]},
  {"spacing": 104, "bounds": "flush", "resolve": {"scale": {"shape": "independent"}, "legend": {"shape": "independent"}},
   "vconcat": [
   {"width": 130, "height": 87,
    "title": {"text": "F", "dx": -47, "offset": -0.8},
    "data": {"values": [
     {"g": "PBS", "id": 3, "v": 0.88}, {"g": "PBS", "id": 9, "v": 0.86}, {"g": "PBS", "id": 6, "v": 0.80}, {"g": "PBS", "id": 2, "v": 0.72}, {"g": "PBS", "id": 8, "v": 0.66},
     {"g": "PBS", "id": 1, "v": 0.62}, {"g": "PBS", "id": 10, "v": 0.60}, {"g": "PBS", "id": 4, "v": 0.57}, {"g": "PBS", "id": 5, "v": 0.52}, {"g": "PBS", "id": 7, "v": 0.46},
     {"g": "AAT", "id": 6, "v": 1.10}, {"g": "AAT", "id": 2, "v": 1.00}, {"g": "AAT", "id": 9, "v": 0.97}, {"g": "AAT", "id": 3, "v": 0.92}, {"g": "AAT", "id": 8, "v": 0.90},
     {"g": "AAT", "id": 5, "v": 0.70}, {"g": "AAT", "id": 1, "v": 0.44}, {"g": "AAT", "id": 10, "v": 0.41}, {"g": "AAT", "id": 4, "v": 0.36}, {"g": "AAT", "id": 7, "v": 0.35},
     {"g": "rAAV8-CB-AAT", "id": 9, "v": 0.68}, {"g": "rAAV8-CB-AAT", "id": 6, "v": 0.58}, {"g": "rAAV8-CB-AAT", "id": 3, "v": 0.50}, {"g": "rAAV8-CB-AAT", "id": 8, "v": 0.46}, {"g": "rAAV8-CB-AAT", "id": 2, "v": 0.43},
     {"g": "rAAV8-CB-AAT", "id": 1, "v": 0.40}, {"g": "rAAV8-CB-AAT", "id": 10, "v": 0.37}, {"g": "rAAV8-CB-AAT", "id": 4, "v": 0.35}, {"g": "rAAV8-CB-AAT", "id": 5, "v": 0.33}, {"g": "rAAV8-CB-AAT", "id": 7, "v": 0.30}
    ]},
    "layer": [
     {"mark": {"type": "point", "filled": true, "color": "black", "size": 24, "opacity": 1},
      "encoding": {
       "x": {"field": "g", "type": "nominal", "scale": {"type": "band", "domain": ["PBS", "AAT", "rAAV8-CB-AAT"], "paddingInner": 0.5, "paddingOuter": 0.25}, "axis": {"title": null, "labelAngle": -45}},
       "xOffset": {"field": "id", "type": "nominal"},
       "y": {"field": "v", "type": "quantitative", "scale": {"domain": [0, 1.5]}, "axis": {"values": [0, 0.5, 1, 1.5], "format": ".1f", "title": "Total IgG (O.D.)"}},
       "shape": {"field": "g", "type": "nominal", "scale": {"domain": ["PBS", "AAT", "rAAV8-CB-AAT"], "range": ["circle", "square", "triangle-up"]}, "legend": null}}},
     {"mark": {"type": "tick", "size": 26, "thickness": 1.5, "color": "black"},
      "encoding": {
       "x": {"field": "g", "type": "nominal", "scale": {"type": "band", "domain": ["PBS", "AAT", "rAAV8-CB-AAT"], "paddingInner": 0.5, "paddingOuter": 0.25}, "axis": {"title": null, "labelAngle": -45}},
       "y": {"aggregate": "mean", "field": "v", "type": "quantitative", "scale": {"domain": [0, 1.5]}, "axis": {"values": [0, 0.5, 1, 1.5], "format": ".1f", "title": "Total IgG (O.D.)"}}}},
     {"mark": {"type": "errorbar", "extent": "stderr", "color": "black", "thickness": 1.5, "ticks": {"size": 12, "thickness": 1.5}},
      "encoding": {
       "x": {"field": "g", "type": "nominal", "scale": {"type": "band", "domain": ["PBS", "AAT", "rAAV8-CB-AAT"], "paddingInner": 0.5, "paddingOuter": 0.25}, "axis": {"title": null, "labelAngle": -45}},
       "y": {"field": "v", "type": "quantitative", "scale": {"domain": [0, 1.5]}, "axis": {"values": [0, 0.5, 1, 1.5], "format": ".1f", "title": "Total IgG (O.D.)"}}}},
     {"data": {"values": [{"a": "PBS", "b": "rAAV8-CB-AAT", "y": 1.57}]},
      "mark": {"type": "rule", "strokeWidth": 1.5, "color": "black"},
      "encoding": {
       "x": {"field": "a", "type": "nominal", "scale": {"type": "band", "domain": ["PBS", "AAT", "rAAV8-CB-AAT"], "paddingInner": 0.5, "paddingOuter": 0.25}, "axis": {"title": null, "labelAngle": -45}},
       "x2": {"field": "b"},
       "y": {"field": "y", "type": "quantitative", "scale": {"domain": [0, 1.5]}, "axis": {"values": [0, 0.5, 1, 1.5], "format": ".1f", "title": "Total IgG (O.D.)"}}}},
     {"data": {"values": [{"c": "AAT", "y": 1.57, "s": "**"}]},
      "mark": {"type": "text", "fontSize": 15, "fontWeight": "bold", "baseline": "alphabetic", "dy": 2},
      "encoding": {
       "x": {"field": "c", "type": "nominal", "scale": {"type": "band", "domain": ["PBS", "AAT", "rAAV8-CB-AAT"], "paddingInner": 0.5, "paddingOuter": 0.25}, "axis": {"title": null, "labelAngle": -45}},
       "y": {"field": "y", "type": "quantitative", "scale": {"domain": [0, 1.5]}, "axis": {"values": [0, 0.5, 1, 1.5], "format": ".1f", "title": "Total IgG (O.D.)"}},
       "text": {"field": "s"}}}
    ]},
   {"width": 133, "height": 86,
    "title": {"text": "I", "dx": -70, "offset": 6},
    "data": {"values": [
     {"g": "PBS", "id": 3, "v": 7900}, {"g": "PBS", "id": 6, "v": 2800}, {"g": "PBS", "id": 2, "v": 2600}, {"g": "PBS", "id": 7, "v": 2000},
     {"g": "PBS", "id": 4, "v": 1300}, {"g": "PBS", "id": 8, "v": 300}, {"g": "PBS", "id": 1, "v": 100}, {"g": "PBS", "id": 5, "v": 0},
     {"g": "AAT", "id": 3, "v": 5300}, {"g": "AAT", "id": 7, "v": 2100}, {"g": "AAT", "id": 2, "v": 2000}, {"g": "AAT", "id": 8, "v": 1600}, {"g": "AAT", "id": 5, "v": 100},
     {"g": "AAT", "id": 1, "v": 50}, {"g": "AAT", "id": 9, "v": 0}, {"g": "AAT", "id": 4, "v": 0}, {"g": "AAT", "id": 6, "v": 0},
     {"g": "rAAV8-CB-AAT", "id": 3, "v": 150}, {"g": "rAAV8-CB-AAT", "id": 6, "v": 120}, {"g": "rAAV8-CB-AAT", "id": 2, "v": 100}, {"g": "rAAV8-CB-AAT", "id": 7, "v": 80},
     {"g": "rAAV8-CB-AAT", "id": 4, "v": 60}, {"g": "rAAV8-CB-AAT", "id": 8, "v": 50}, {"g": "rAAV8-CB-AAT", "id": 1, "v": 40}, {"g": "rAAV8-CB-AAT", "id": 5, "v": 30}
    ]},
    "layer": [
     {"mark": {"type": "point", "filled": true, "color": "black", "size": 16, "opacity": 1},
      "encoding": {
       "x": {"field": "g", "type": "nominal", "scale": {"type": "band", "domain": ["PBS", "AAT", "rAAV8-CB-AAT"], "paddingInner": 0.5, "paddingOuter": 0.25}, "axis": {"title": null, "labelAngle": -45}},
       "xOffset": {"field": "id", "type": "nominal"},
       "y": {"field": "v", "type": "quantitative", "scale": {"domain": [0, 10000]}, "axis": {"values": [0, 2000, 4000, 6000, 8000, 10000], "format": "d", "title": ["Urine IFN-γ Conc", "(Pg/ml)"]}},
       "shape": {"field": "g", "type": "nominal", "scale": {"domain": ["PBS", "AAT", "rAAV8-CB-AAT"], "range": ["circle", "square", "triangle-up"]}, "legend": null}}},
     {"mark": {"type": "tick", "size": 28, "thickness": 1.2, "color": "black"},
      "encoding": {
       "x": {"field": "g", "type": "nominal", "scale": {"type": "band", "domain": ["PBS", "AAT", "rAAV8-CB-AAT"], "paddingInner": 0.5, "paddingOuter": 0.25}, "axis": {"title": null, "labelAngle": -45}},
       "y": {"aggregate": "mean", "field": "v", "type": "quantitative", "scale": {"domain": [0, 10000]}, "axis": {"values": [0, 2000, 4000, 6000, 8000, 10000], "format": "d", "title": ["Urine IFN-γ Conc", "(Pg/ml)"]}}}},
     {"mark": {"type": "errorbar", "extent": "stderr", "color": "black", "thickness": 1.5, "ticks": {"size": 12, "thickness": 1.5}},
      "encoding": {
       "x": {"field": "g", "type": "nominal", "scale": {"type": "band", "domain": ["PBS", "AAT", "rAAV8-CB-AAT"], "paddingInner": 0.5, "paddingOuter": 0.25}, "axis": {"title": null, "labelAngle": -45}},
       "y": {"field": "v", "type": "quantitative", "scale": {"domain": [0, 10000]}, "axis": {"values": [0, 2000, 4000, 6000, 8000, 10000], "format": "d", "title": ["Urine IFN-γ Conc", "(Pg/ml)"]}}}},
     {"data": {"values": [{"a": "PBS", "b": "rAAV8-CB-AAT", "y": 8760}]},
      "mark": {"type": "rule", "strokeWidth": 1.5, "color": "black"},
      "encoding": {
       "x": {"field": "a", "type": "nominal", "scale": {"type": "band", "domain": ["PBS", "AAT", "rAAV8-CB-AAT"], "paddingInner": 0.5, "paddingOuter": 0.25}, "axis": {"title": null, "labelAngle": -45}},
       "x2": {"field": "b"},
       "y": {"field": "y", "type": "quantitative", "scale": {"domain": [0, 10000]}, "axis": {"values": [0, 2000, 4000, 6000, 8000, 10000], "format": "d", "title": ["Urine IFN-γ Conc", "(Pg/ml)"]}}}},
     {"data": {"values": [{"c": "AAT", "y": 8760, "s": "*"}]},
      "mark": {"type": "text", "fontSize": 15, "fontWeight": "bold", "baseline": "alphabetic", "dy": 2},
      "encoding": {
       "x": {"field": "c", "type": "nominal", "scale": {"type": "band", "domain": ["PBS", "AAT", "rAAV8-CB-AAT"], "paddingInner": 0.5, "paddingOuter": 0.25}, "axis": {"title": null, "labelAngle": -45}},
       "y": {"field": "y", "type": "quantitative", "scale": {"domain": [0, 10000]}, "axis": {"values": [0, 2000, 4000, 6000, 8000, 10000], "format": "d", "title": ["Urine IFN-γ Conc", "(Pg/ml)"]}},
       "text": {"field": "s"}}}
    ]}
  ]}
 ]}
]
}
